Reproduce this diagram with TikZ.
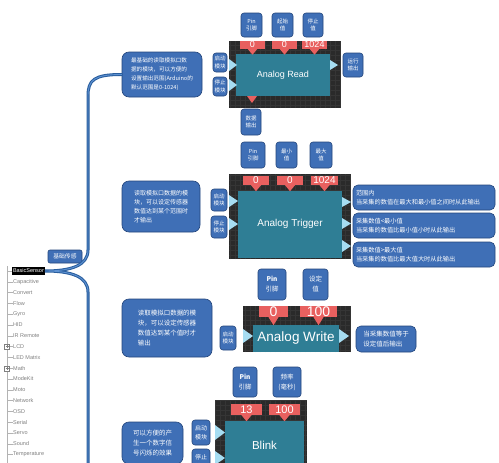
\documentclass[tikz,border=0pt]{standalone}
\usepackage{fontspec}
\setmainfont{Liberation Sans}
\newfontfamily\cjk{Noto Sans CJK SC}
\usetikzlibrary{calc}
\definecolor{darkbg}{HTML}{2A2A2A}
\definecolor{gridc}{HTML}{353535}
\definecolor{tealc}{HTML}{2F7E95}
\definecolor{tabred}{HTML}{E8605F}
\definecolor{lightblue}{HTML}{A6DDF2}
\definecolor{lblue}{HTML}{3F6FB6}
\definecolor{lborder}{HTML}{24467C}
\definecolor{bracec}{HTML}{2A5E9E}
\definecolor{bracel}{HTML}{5E92D2}
\definecolor{treegray}{HTML}{808080}
\newcommand\fsz[2]{\fontsize{#1}{#2}\selectfont}
\tikzset{
  lbl/.style={rounded corners=3pt, fill=lblue, draw=lborder, line width=0.6pt, text=white,
    align=center, inner sep=0pt, font=\cjk\fsz{5.5}{7.5}},
  descbox/.style={lbl, rounded corners=7pt, align=left, font=\cjk\fsz{6}{9}},
  outbox/.style={lbl, rounded corners=5pt, align=left, font=\cjk\fsz{6.2}{9.5}},
  tealbox/.style={fill=tealc, inner sep=0pt, text=white},
  tabbox/.style={fill=tabred, inner sep=0pt, text=white},
  darkpanel/.style={fill=darkbg},
  gridlines/.style={draw=gridc, line width=0.3pt},
  intri/.style={fill=lightblue},
  treeitem/.style={anchor=west, inner sep=0pt, text=treegray, font=\fsz{5.5}{6}},
  brace/.style={draw=bracec, line width=3pt, line cap=round},
  bracehi/.style={draw=bracel, line width=0.9pt, line cap=round},
}
\newcommand\tabpoint[2]{\fill[tabred] ($(#1.south)+(-5,0)$) -- ($(#1.south)+(5,0)$) -- ($(#1.south)+(0,#2)$) -- cycle;}
\begin{document}
\begin{tikzpicture}[x=1pt,y=-1pt]
\useasboundingbox (0,0) rectangle (499,463);
\fill[white] (0,0) rectangle (499,463);

% ---------------- Analog Read ----------------
\fill[darkpanel] (229,41) rectangle (340,108);
\draw[gridlines, step=5pt] (229,41) grid (340,108);
\node[tealbox, minimum width=94pt, minimum height=42pt, font=\fsz{9}{10}] (Rt) at (283,75) {Analog Read};
\node[tabbox, minimum width=25pt, minimum height=8pt, font=\fsz{9}{9}] (Ra1) at (252.5,44.5) {0};
\node[tabbox, minimum width=25pt, minimum height=8pt, font=\fsz{9}{9}] (Ra2) at (284.5,44.5) {0};
\node[tabbox, minimum width=25pt, minimum height=8pt, font=\fsz{9}{9}] (Ra3) at (314.5,44.5) {1024};
\tabpoint{Ra1}{6}\tabpoint{Ra2}{6}\tabpoint{Ra3}{6}
\fill[intri] (229,59) -- (237,65) -- (229,71) -- cycle;
\fill[intri] (229,79) -- (237,85) -- (229,91) -- cycle;
\fill[intri] (330,60) -- (338,65) -- (330,70) -- cycle;
\fill[tabred] (247,96) -- (257,96) -- (252,103) -- cycle;
\node[lbl, minimum width=14pt, minimum height=19pt] (Rs) at (220,62.5) {启动\\模块};
\node[lbl, minimum width=14pt, minimum height=19pt] (Rp) at (220,86.5) {停止\\模块};
\node[lbl, minimum width=21pt, minimum height=24pt] (Rl1) at (251.5,25) {Pin\\引脚};
\node[lbl, minimum width=21pt, minimum height=24pt] (Rl2) at (282.5,25) {起始\\值};
\node[lbl, minimum width=20pt, minimum height=24pt] (Rl3) at (313,25) {停止\\值};
\node[lbl, minimum width=20pt, minimum height=24pt] (Rout) at (353,65) {运行\\输出};
\node[lbl, minimum width=20pt, minimum height=26pt] (Rdat) at (251,122) {数据\\输出};
\node[descbox, minimum width=80pt, minimum height=45pt, font=\cjk\fsz{5.6}{9}] (Rdesc) at (162,74.5)
  {最基础的读取模拟口数\\据的模块，可以方便的\\设置输出范围(Arduino的\\默认范围是0-1024)};

% ---------------- Analog Trigger ----------------
\fill[darkpanel] (229,174) rectangle (350,259);
\draw[gridlines, step=5pt] (229,174) grid (350,259);
\node[tealbox, minimum width=104pt, minimum height=67pt, font=\fsz{10}{11}] (Tt) at (290,224) {Analog Trigger};
\node[tabbox, minimum width=26pt, minimum height=9pt, font=\fsz{10}{10}] (Ta1) at (256,180.5) {0};
\node[tabbox, minimum width=26pt, minimum height=9pt, font=\fsz{10}{10}] (Ta2) at (290,180.5) {0};
\node[tabbox, minimum width=27pt, minimum height=9pt, font=\fsz{10}{10}] (Ta3) at (324.5,180.5) {1024};
\tabpoint{Ta1}{6}\tabpoint{Ta2}{6}\tabpoint{Ta3}{6}
\fill[intri] (229,195) -- (238,201) -- (229,207) -- cycle;
\fill[intri] (229,218) -- (238,224) -- (229,230) -- cycle;
\fill[intri] (342,197) -- (351,202) -- (342,207) -- cycle;
\fill[intri] (342,218) -- (351,223.5) -- (342,229) -- cycle;
\fill[intri] (342,240) -- (351,246) -- (342,252) -- cycle;
\node[lbl, minimum width=16pt, minimum height=22pt] (Ts) at (219,200) {启动\\模块};
\node[lbl, minimum width=16pt, minimum height=22pt] (Tp) at (219,227) {停止\\模块};
\node[lbl, minimum width=24pt, minimum height=26pt] (Tl1) at (253,155) {Pin\\引脚};
\node[lbl, minimum width=21pt, minimum height=26pt] (Tl2) at (286.5,155) {最小\\值};
\node[lbl, minimum width=22pt, minimum height=26pt] (Tl3) at (321,155) {最大\\值};
\node[outbox, minimum width=142pt, minimum height=25pt, text width=136pt] (To1) at (424,197.5)
  {范围内\\当采集的数值在最大和最小值之间时从此输出};
\node[outbox, minimum width=142pt, minimum height=25pt, text width=136pt] (To2) at (424,225.5)
  {采集数值<最小值\\当采集的数值比最小值小时从此输出};
\node[outbox, minimum width=142pt, minimum height=25pt, text width=136pt] (To3) at (424,254.5)
  {采集数值>最大值\\当采集的数值比最大值大时从此输出};
\node[descbox, minimum width=78pt, minimum height=51pt] (Tdesc) at (161,206.5)
  {读取模拟口数据的模\\块，可以设定传感器\\数值达到某个范围时\\才输出};

% ---------------- Analog Write ----------------
\fill[darkpanel] (243,306) rectangle (351,352);
\draw[gridlines, step=5pt] (243,306) grid (351,352);
\node[tealbox, minimum width=86pt, minimum height=27pt, font=\fsz{13.5}{14}] (Wt) at (296,338.5) {Analog Write};
\node[tabbox, minimum width=29pt, minimum height=11pt, font=\fsz{14}{14}] (Wa1) at (273.5,311.5) {0};
\node[tabbox, minimum width=37pt, minimum height=11pt, font=\fsz{14}{14}] (Wa2) at (318.5,311.5) {100};
\tabpoint{Wa1}{8}\tabpoint{Wa2}{8}
\fill[intri] (243,329) -- (253,336) -- (243,343) -- cycle;
\fill[intri] (339,329) -- (349,336) -- (339,343) -- cycle;
\node[lbl, minimum width=16pt, minimum height=24pt] (Ws) at (228,338) {启动\\模块};
\node[lbl, minimum width=28pt, minimum height=31pt, font=\cjk\fsz{6.5}{10}] (Wl1) at (272,284.5) {\textbf{Pin}\\引脚};
\node[lbl, minimum width=25pt, minimum height=31pt, font=\cjk\fsz{6.5}{10}] (Wl2) at (315.5,284.5) {设定\\值};
\node[outbox, minimum width=60pt, minimum height=26pt, font=\cjk\fsz{6.5}{9.5}] (Wout) at (386,339)
  {当采集数值等于\\设定值后输出};
\node[descbox, minimum width=90pt, minimum height=58pt, font=\cjk\fsz{6.5}{10}] (Wdesc) at (167,328)
  {读取模拟口数据的模\\块，可以设定传感器\\数值达到某个值时才\\输出};

% ---------------- Blink ----------------
\fill[darkpanel] (215,400) rectangle (307,470);
\draw[gridlines, step=5pt] (215,400) grid (307,470);
\node[tealbox, minimum width=79pt, minimum height=49pt, font=\fsz{11.5}{12}] (Bt) at (264.5,445.5) {Blink};
\node[tabbox, minimum width=31pt, minimum height=11pt, font=\fsz{11}{11}] (Ba1) at (246.5,409.5) {13};
\node[tabbox, minimum width=31pt, minimum height=11pt, font=\fsz{11}{11}] (Ba2) at (284.5,409.5) {100};
\tabpoint{Ba1}{6}\tabpoint{Ba2}{6}
\fill[intri] (215,425) -- (225,432.5) -- (215,440) -- cycle;
\fill[intri] (215,451) -- (225,458) -- (215,465) -- cycle;
\node[lbl, minimum width=18pt, minimum height=25pt, font=\cjk\fsz{6}{9}] (Bs) at (201,432.5) {启动\\模块};
\node[lbl, minimum width=18pt, minimum height=25pt, font=\cjk\fsz{6}{9}] (Bp) at (201,461.5) {停止\\模块};
\node[lbl, minimum width=24pt, minimum height=30pt, font=\cjk\fsz{6.5}{10}] (Bl1) at (245,382) {\textbf{Pin}\\引脚};
\node[lbl, minimum width=28pt, minimum height=30pt, font=\cjk\fsz{6.5}{10}] (Bl2) at (287,382) {频率\\(毫秒)};
\node[descbox, minimum width=61pt, minimum height=42pt, font=\cjk\fsz{6.5}{10}] (Bdesc) at (152.5,443)
  {可以方便的产\\生一个数字信\\号闪烁的效果};

% ---------------- Tree ----------------
\draw[treegray!60, line width=0.4pt] (7,266) -- (7,470);
\node[fill=black, text=white, inner sep=0.8pt, anchor=west, font=\fsz{5.5}{6}, minimum height=8pt] (bs) at (12,271) {BasicSensor};
\draw[treegray!60, line width=0.4pt] (7,271) -- (bs.west);
\foreach \t [count=\i from 1] in {Capacitive,Convert,Flow,Gyro,HID,IR Remote,LCD,LED Matrix,Math,ModeKit,Moto,Network,OSD,Serial,Servo,Sound,Temperature}{
  \node[treeitem] (ti\i) at (13,271+\i*10.8) {\t};
  \draw[treegray!60, line width=0.4pt] (7,271+\i*10.8) -- (ti\i.west);
}
\foreach \j in {7,9}{
  \draw[treegray, line width=0.4pt, fill=white] (4.5,268.5+\j*10.8) rectangle (9.5,273.5+\j*10.8);
  \draw[treegray, line width=0.4pt] (5.5,271+\j*10.8) -- (8.5,271+\j*10.8) (7,269.5+\j*10.8) -- (7,272.5+\j*10.8);
}
\node[lbl, rounded corners=2pt, minimum width=34pt, minimum height=13pt, font=\cjk\fsz{5.8}{7}] (grp) at (65,256.5) {基础传感};

% ---------------- Brace ----------------
\draw[brace] (Rdesc.west) .. controls (94,74.5) and (88,80) .. (88,96) -- (88,250)
  .. controls (88,266) and (70,271) .. (bs.east) .. controls (70,271) and (88,276) .. (88,292) -- (88,470);
\draw[bracehi] (Rdesc.west) .. controls (94,74.5) and (88,80) .. (88,96) -- (88,250)
  .. controls (88,266) and (70,271) .. (bs.east) .. controls (70,271) and (88,276) .. (88,292) -- (88,470);
\end{tikzpicture}
\end{document}
